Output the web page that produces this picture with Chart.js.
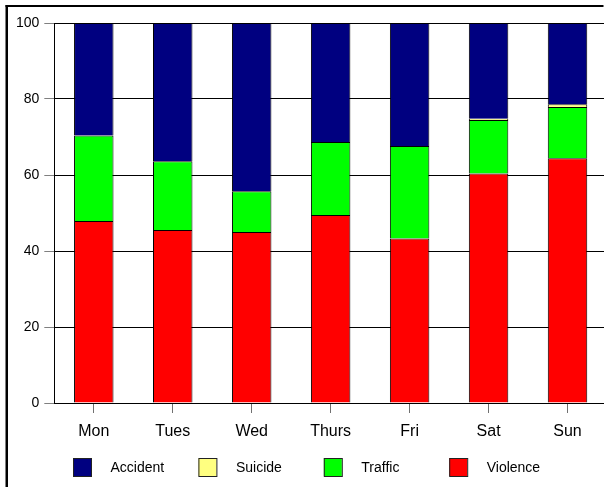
<!DOCTYPE html>
<html>
<head>
<meta charset="utf-8">
<script src="https://cdn.jsdelivr.net/npm/chart.js@4"></script>
<style>
html,body{margin:0;padding:0;background:#fff;overflow:hidden;width:604px;height:487px;}
#wrap{width:607px;height:487px;}
</style>
</head>
<body>
<div id="wrap"><canvas id="c" width="607" height="487"></canvas></div>
<script>
const categories = ['Mon','Tues','Wed','Thurs','Fri','Sat','Sun'];
const violence = [47.9, 45.5, 45.0, 49.5, 43.3, 60.4, 64.4];
const traffic  = [22.5, 18.1, 10.7, 19.2, 24.3, 14.1, 13.5];
const suicide  = [0, 0, 0, 0, 0, 0.3, 0.7];
const accident = [29.6, 36.4, 44.3, 31.3, 32.4, 25.2, 21.4];
const yTicks = [0, 20, 40, 60, 80, 100];

const FONT = '"Liberation Sans", Arial, sans-serif';

const legendPlugin = {
  id: 'customLegend',
  afterDraw(chart) {
    const ctx = chart.ctx;
    ctx.save();
    // frame lines (top and left)
    ctx.fillStyle = '#000';
    ctx.fillRect(5.5, 5, 2.5, 487);
    ctx.fillRect(5.5, 5, 598, 2);
    // legend, in reverse dataset order
    const ds = chart.data.datasets.slice().reverse();
    const x0 = 73, slot = 125.4, y = 458, box = 18;
    ctx.font = '14px ' + FONT;
    ctx.textBaseline = 'middle';
    ctx.textAlign = 'left';
    ds.forEach((d, i) => {
      const x = x0 + i * slot;
      ctx.fillStyle = d.backgroundColor;
      ctx.fillRect(x, y, box, box);
      ctx.strokeStyle = '#222';
      ctx.lineWidth = 1;
      ctx.strokeRect(x + 0.5, y + 0.5, box, box);
      ctx.fillStyle = '#000';
      ctx.fillText(d.label, x + box + 19.5, y + box / 2 + 1);
    });
    ctx.restore();
  }
};

const mk = (label, data, color) => ({
  label, data, backgroundColor: color, borderColor: '#000', borderWidth: 1,
  barPercentage: 0.5, categoryPercentage: 1.0
});

new Chart(document.getElementById('c'), {
  type: 'bar',
  data: {
    labels: categories,
    datasets: [
      mk('Violence', violence, '#FF0000'),
      mk('Traffic', traffic, '#00FF00'),
      mk('Suicide', suicide, '#FFFF80'),
      mk('Accident', accident, '#000080')
    ]
  },
  options: {
    responsive: false,
    animation: false,
    events: [],
    layout: { padding: { left: 0, top: 23, right: 0, bottom: 34 } },
    plugins: { legend: { display: false }, tooltip: { enabled: false } },
    scales: {
      x: {
        stacked: true,
        grid: { display: true, drawOnChartArea: false, drawTicks: true, tickLength: 10, offset: false, color: '#808080', tickColor: '#707070' },
        border: { display: true, color: '#000' },
        ticks: { color: '#000', font: { family: FONT, size: 16 }, padding: 9, maxRotation: 0 },
        afterFit(scale) { scale.height = 50; }
      },
      y: {
        stacked: true,
        min: 0, max: 100,
        afterBuildTicks(scale) { scale.ticks = yTicks.map(v => ({ value: v })); },
        grid: { color: '#000', lineWidth: 1, drawTicks: true, tickLength: 10, tickColor: '#808080' },
        border: { display: true, color: '#000' },
        ticks: { color: '#000', font: { family: FONT, size: 14 }, padding: 5 },
        afterFit(scale) { scale.width = 54.3; }
      }
    }
  },
  plugins: [legendPlugin]
});
</script>
</body>
</html>
